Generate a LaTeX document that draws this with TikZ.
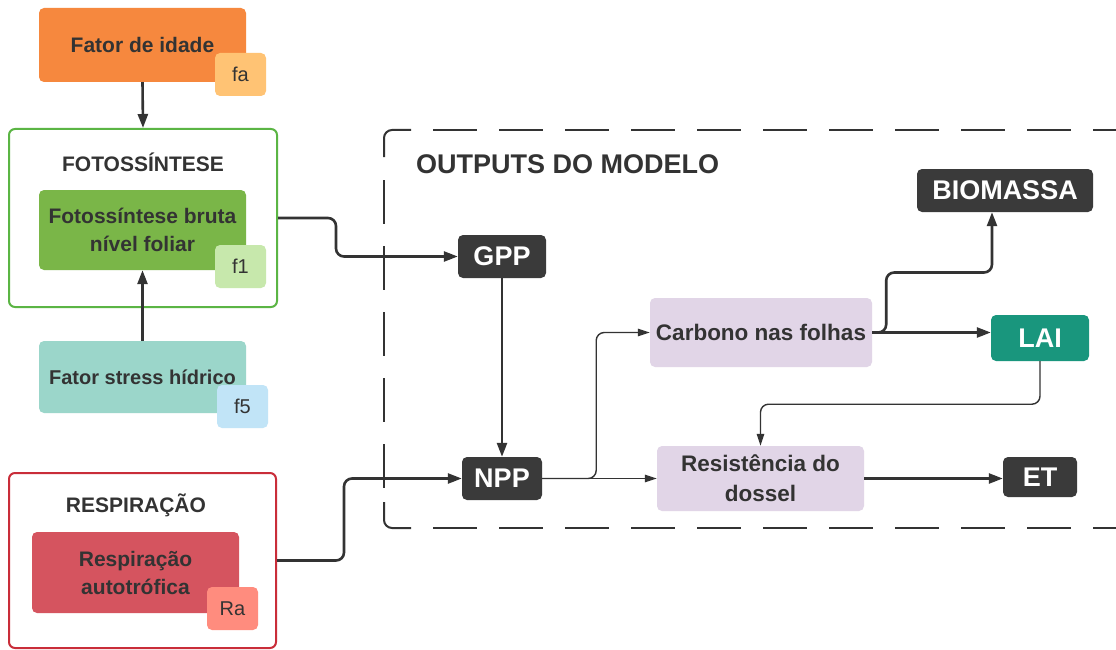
\documentclass[tikz,border=0pt]{standalone}
\usepackage{fontspec}
\setmainfont{Liberation Sans}
\usetikzlibrary{arrows.meta}

\definecolor{ink}{HTML}{333333}
\definecolor{darkbox}{HTML}{3A3A3A}
\definecolor{orangefill}{HTML}{F6883E}
\definecolor{orangetag}{HTML}{FFC374}
\definecolor{greenline}{HTML}{5BB544}
\definecolor{greenfill}{HTML}{7AB648}
\definecolor{greentag}{HTML}{C7E8AC}
\definecolor{tealfill}{HTML}{9BD6CA}
\definecolor{bluetag}{HTML}{C1E4F7}
\definecolor{redline}{HTML}{C92D39}
\definecolor{redfill}{HTML}{D5545F}
\definecolor{redtag}{HTML}{FF8C7E}
\definecolor{laifill}{HTML}{19967D}
\definecolor{lilac}{HTML}{E1D5E7}

\tikzset{
  box/.style={rounded corners=5pt, inner sep=0pt, text=ink, align=center,
    font=\bfseries\fontsize{21}{28}\selectfont},
  tagbox/.style={rounded corners=5pt, inner sep=0pt, minimum width=51pt,
    minimum height=43pt, text=ink, font=\fontsize{20}{24}\selectfont},
  group/.style={rounded corners=6pt, line width=2pt, inner sep=0pt},
  grouptitle/.style={text=ink, inner sep=0pt, font=\bfseries\fontsize{21}{24}\selectfont},
  outbox/.style={fill=darkbox, rounded corners=5pt, inner sep=0pt, text=white,
    font=\bfseries\fontsize{27}{30}\selectfont},
  midbox/.style={fill=lilac, rounded corners=5pt, inner sep=0pt, text=ink, align=center,
    font=\bfseries\fontsize{22.5}{30}\selectfont},
  flow/.style={draw=ink, line width=2.6pt, rounded corners=8pt,
    -{Triangle[length=14pt,width=10pt]}},
  thinflow/.style={draw=ink, line width=1.4pt, rounded corners=8pt,
    -{Triangle[length=12pt,width=7.5pt]}},
  frame/.style={draw=ink, line width=2pt},
  framedash/.style={frame, dash pattern=on 44pt off 22pt},
}

\begin{document}
\begin{tikzpicture}[x=1pt,y=-1pt]
\clip (0,0) rectangle (1116,650);
\fill[white] (0,0) rectangle (1116,650);

% dashed frame of the model outputs
\draw[frame, rounded corners=8pt] (384,157) -- (384,130) -- (411,130);
\draw[framedash] (433,130) -- (1130,130);
\draw[framedash] (384,180) -- (384,502);
\draw[frame, rounded corners=8pt] (384,502) -- (384,528) -- (411,528);
\draw[framedash] (433,528) -- (1130,528);
\node[anchor=west, text=ink, inner sep=0pt, font=\bfseries\fontsize{27}{30}\selectfont]
  (outtitle) at (416,164) {OUTPUTS DO MODELO};

% age factor
\node[box, fill=orangefill, minimum width=207pt, minimum height=74pt] (idade) at (142.5,45) {Fator de idade};
\node[tagbox, fill=orangetag] (fa) at (240.5,74.5) {fa};

% photosynthesis group
\node[group, draw=greenline, minimum width=268pt, minimum height=178pt] (foto) at (143,218) {};
\node[grouptitle] (fototitle) at (143,162) {FOTOSSÍNTESE};
\node[box, fill=greenfill, minimum width=207pt, minimum height=80pt] (bruta) at (142.5,230)
  {Fotossíntese bruta\\nível foliar};
\node[tagbox, fill=greentag] (f1) at (240.5,266.5) {f1};

% water stress factor
\node[box, fill=tealfill, minimum width=207pt, minimum height=72pt,
  font=\bfseries\fontsize{20}{24}\selectfont] (stress) at (142.5,377) {Fator stress hídrico};
\node[tagbox, fill=bluetag] (f5) at (242.5,406.5) {f5};

% respiration group
\node[group, draw=redline, minimum width=267pt, minimum height=175pt] (resp) at (142.5,560.5) {};
\node[grouptitle] (resptitle) at (136,505) {RESPIRAÇÃO};
\node[box, fill=redfill, minimum width=207pt, minimum height=81pt] (ra) at (135.5,572.5)
  {Respiração\\autotrófica};
\node[tagbox, fill=redtag] (ratag) at (232.5,608.5) {Ra};

% outputs
\node[outbox, minimum width=88pt, minimum height=43pt] (gpp) at (502,256.5) {GPP};
\node[outbox, minimum width=80pt, minimum height=43pt] (npp) at (502,478.5) {NPP};
\node[outbox, minimum width=176pt, minimum height=43pt] (bio) at (1005,190.5) {BIOMASSA};
\node[outbox, fill=laifill, minimum width=98pt, minimum height=46pt] (lai) at (1040,338) {LAI};
\node[outbox, minimum width=74pt, minimum height=40pt] (et) at (1040,477) {ET};
\node[midbox, minimum width=222pt, minimum height=69pt] (carb) at (761,332.5) {Carbono nas folhas};
\node[midbox, minimum width=207pt, minimum height=65pt] (dossel) at (760.5,478.5)
  {Resistência do\\dossel};

% connectors
\draw[flow] (idade.south) -- (foto.north);
\draw[flow] (stress.north) -- (bruta.south);
\draw[flow] (foto.east) -- ++(58,0) |- (gpp.west);
\draw[flow] (gpp.south) -- (npp.north);
\draw[flow] (resp.east) -- ++(67,0) |- (npp.west);
\draw[thinflow] (npp.east) -- (dossel.west);
\draw[thinflow] (npp.east) -- ++(54,0) |- (carb.west);
\draw[flow] (carb.east) -- (carb.east -| lai.west);
\draw[flow] (carb.east) -- ++(14,0) -- ++(0,-60) -| ([xshift=-13pt]bio.south);
\draw[thinflow] (lai.south) -- ++(0,43) -| (dossel.north);
\draw[flow] (dossel.east) -- (dossel.east -| et.west);
\end{tikzpicture}
\end{document}
